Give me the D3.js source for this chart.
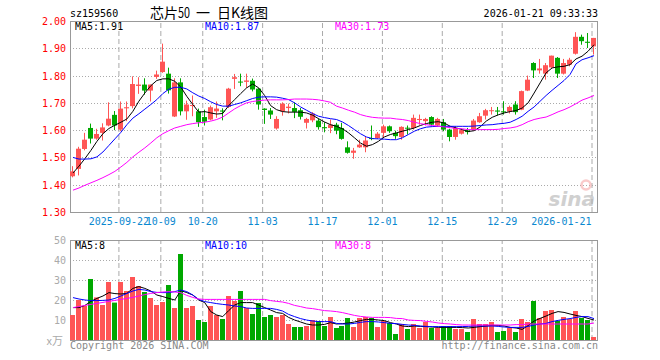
<!DOCTYPE html>
<html lang="zh-CN">
<head>
<meta charset="UTF-8">
<title>芯片50 日K线图</title>
<script src="https://cdn.jsdelivr.net/npm/d3@7"></script>
<style>
  body { margin: 0; background: #fff; }
  svg text { font-family: "DejaVu Sans Mono", monospace; font-size: 10px; }
</style>
</head>
<body>
<svg id="chart" width="660" height="360"></svg>
<script>
// trading days shown on the chart
const dates = [
  "2025-09-10","2025-09-11","2025-09-12","2025-09-15","2025-09-16","2025-09-17","2025-09-18","2025-09-19",
  "2025-09-22","2025-09-23","2025-09-24","2025-09-25","2025-09-26","2025-09-29","2025-09-30",
  "2025-10-09","2025-10-10","2025-10-13","2025-10-14","2025-10-15","2025-10-16","2025-10-17","2025-10-20",
  "2025-10-21","2025-10-22","2025-10-23","2025-10-24","2025-10-27","2025-10-28","2025-10-29","2025-10-30","2025-10-31",
  "2025-11-03","2025-11-04","2025-11-05","2025-11-06","2025-11-07","2025-11-10","2025-11-11","2025-11-12","2025-11-13","2025-11-14",
  "2025-11-17","2025-11-18","2025-11-19","2025-11-20","2025-11-21","2025-11-24","2025-11-25","2025-11-26","2025-11-27","2025-11-28",
  "2025-12-01","2025-12-02","2025-12-03","2025-12-04","2025-12-05","2025-12-08","2025-12-09","2025-12-10","2025-12-11","2025-12-12",
  "2025-12-15","2025-12-16","2025-12-17","2025-12-18","2025-12-19","2025-12-22","2025-12-23","2025-12-24","2025-12-25","2025-12-26",
  "2025-12-29","2025-12-30","2025-12-31",
  "2026-01-05","2026-01-06","2026-01-07","2026-01-08","2026-01-09","2026-01-12","2026-01-13","2026-01-14","2026-01-15","2026-01-16",
  "2026-01-19","2026-01-20","2026-01-21"
];
const open = [
  1.431,1.458,1.531,1.608,1.569,1.590,1.617,1.656,1.602,1.680,1.688,1.762,1.767,1.745,1.795,
  1.813,1.807,1.650,1.775,1.669,1.690,1.669,1.648,1.639,1.669,1.672,1.685,1.788,1.778,1.777,1.781,1.752,
  1.679,1.672,1.606,1.669,1.681,1.681,1.673,1.627,1.636,1.635,1.611,1.608,1.620,1.608,1.537,1.517,1.537,1.537,1.571,1.571,
  1.590,1.614,1.590,1.575,1.609,1.608,1.637,1.633,1.648,1.617,1.629,1.602,1.575,1.587,1.599,1.602,1.629,1.653,1.671,1.672,
  1.669,1.668,1.694,
  1.675,1.745,1.846,1.819,1.807,1.830,1.865,1.807,1.840,1.880,1.942,1.924,1.907
];
const high = [
  1.468,1.539,1.590,1.624,1.605,1.625,1.702,1.670,1.705,1.705,1.797,1.794,1.790,1.767,1.818,
  1.917,1.829,1.790,1.790,1.708,1.727,1.679,1.675,1.690,1.705,1.680,1.755,1.806,1.807,1.807,1.789,1.755,
  1.680,1.681,1.651,1.702,1.697,1.702,1.681,1.645,1.666,1.643,1.629,1.639,1.627,1.627,1.559,1.535,1.565,1.575,1.617,1.593,
  1.620,1.617,1.598,1.614,1.617,1.657,1.657,1.645,1.651,1.645,1.641,1.605,1.614,1.605,1.608,1.641,1.663,1.678,1.685,1.685,
  1.706,1.690,1.706,
  1.745,1.800,1.849,1.861,1.846,1.873,1.868,1.861,1.865,1.959,1.950,1.956,1.938
];
const low = [
  1.427,1.434,1.526,1.551,1.565,1.562,1.614,1.600,1.596,1.633,1.680,1.733,1.730,1.705,1.788,
  1.810,1.734,1.648,1.654,1.638,1.651,1.612,1.617,1.636,1.645,1.636,1.681,1.751,1.761,1.755,1.742,1.675,
  1.623,1.641,1.602,1.653,1.661,1.644,1.639,1.606,1.629,1.602,1.592,1.589,1.585,1.565,1.514,1.495,1.535,1.519,1.563,1.568,
  1.571,1.590,1.568,1.565,1.584,1.602,1.620,1.617,1.617,1.612,1.596,1.559,1.565,1.584,1.584,1.599,1.627,1.639,1.657,1.654,
  1.657,1.661,1.657,
  1.673,1.743,1.791,1.807,1.785,1.828,1.791,1.804,1.834,1.877,1.913,1.901,1.877
];
const close = [
  1.449,1.532,1.565,1.569,1.586,1.610,1.642,1.617,1.679,1.684,1.769,1.767,1.745,1.767,1.804,
  1.851,1.746,1.775,1.669,1.694,1.692,1.629,1.631,1.684,1.679,1.668,1.752,1.794,1.776,1.782,1.749,1.694,
  1.674,1.657,1.641,1.697,1.686,1.667,1.649,1.641,1.661,1.611,1.607,1.620,1.598,1.568,1.517,1.525,1.547,1.562,1.568,1.587,
  1.614,1.596,1.578,1.612,1.606,1.645,1.641,1.641,1.620,1.641,1.602,1.575,1.608,1.600,1.593,1.635,1.651,1.673,1.673,1.668,
  1.666,1.685,1.666,
  1.743,1.785,1.819,1.826,1.838,1.873,1.807,1.846,1.858,1.942,1.926,1.920,1.938
];
// price moving averages as drawn
const ma5 = [
  1.443,1.468,1.496,1.526,1.559,1.587,1.606,1.618,1.629,1.641,1.669,1.706,1.736,1.763,1.782,
  1.788,1.788,1.779,1.758,1.724,1.694,1.666,1.668,1.663,1.659,1.661,1.690,1.712,1.734,1.755,1.769,1.755,
  1.727,1.690,1.675,1.668,1.666,1.666,1.666,1.663,1.655,1.642,1.630,1.620,1.614,1.605,1.590,1.572,1.553,1.541,1.547,1.559,
  1.575,1.584,1.590,1.596,1.602,1.608,1.617,1.624,1.629,1.631,1.626,1.614,1.608,1.602,1.595,1.598,1.612,1.633,1.647,1.656,
  1.663,1.668,1.672,
  1.681,1.700,1.736,1.773,1.810,1.828,1.832,1.834,1.840,1.861,1.871,1.889,1.913
];
const ma10 = [
  1.500,1.494,1.494,1.495,1.502,1.520,1.544,1.568,1.592,1.620,1.644,1.660,1.677,1.694,1.712,
  1.734,1.750,1.757,1.757,1.751,1.737,1.725,1.716,1.704,1.694,1.688,1.688,1.694,1.700,1.708,1.716,1.721,
  1.722,1.722,1.721,1.717,1.712,1.700,1.685,1.673,1.661,1.651,1.646,1.642,1.639,1.630,1.617,1.602,1.587,1.575,1.569,1.568,
  1.567,1.565,1.565,1.572,1.584,1.596,1.605,1.611,1.613,1.614,1.614,1.614,1.614,1.614,1.614,1.615,1.617,1.619,1.620,1.623,
  1.625,1.629,1.639,
  1.651,1.669,1.685,1.706,1.727,1.746,1.764,1.782,1.804,1.843,1.858,1.865,1.873
];
const ma30 = [
  1.380,1.388,1.398,1.407,1.416,1.426,1.437,1.449,1.465,1.482,1.502,1.519,1.535,1.553,1.572,
  1.587,1.598,1.608,1.614,1.620,1.624,1.627,1.629,1.633,1.639,1.648,1.663,1.678,1.690,1.700,1.705,1.708,
  1.710,1.711,1.711,1.711,1.712,1.714,1.714,1.714,1.713,1.711,1.707,1.702,1.688,1.681,1.673,1.666,1.657,1.651,1.647,1.645,
  1.644,1.644,1.641,1.639,1.635,1.629,1.624,1.620,1.617,1.614,1.612,1.609,1.606,1.605,1.602,1.602,1.602,1.602,1.602,1.603,
  1.606,1.608,1.612,
  1.620,1.631,1.639,1.644,1.648,1.657,1.667,1.675,1.685,1.697,1.710,1.718,1.727
];
// volume, 万手
const volume = [
  12.5,20,17,30.5,21.3,17.5,29,18.7,29,24.5,31.5,27,24,21,17.5,
  19,27.5,16,43,16,17,10,9,17,12.5,10.5,22,19.5,24.5,16,13,18.5,
  11.5,12.5,11.5,12.5,8,6.5,6.5,7,10,9.5,7,11.5,6,7,11,6.5,11,11.5,11,6.5,
  9.5,8.5,3,8,5.5,8,6,9,6,6,7,7,5.5,5.5,4,10.5,8,8,9,4,
  4.5,6,4,
  10.5,9,19.5,11,14.5,15,9.5,11.5,10.5,14.5,11,10,1.5
];
const volMa5 = [
  16.2,16.2,17.3,19.3,20.8,22,23.7,23.2,23,23.3,25.8,26.7,25.8,24.5,22.5,
  21.7,20.8,20,24.7,23.7,22.5,20,18.7,14.2,12.5,11.7,14.7,17.5,18.7,18.7,18.7,17.5,
  16.2,15,13.7,13.3,11.3,10,9,8,7.5,7.5,7.8,8.7,8,8.2,8.5,9,9.7,10.3,10.3,10,
  9.7,8.7,8,7,6.7,7,6.8,6.7,6.5,6.3,6.3,6.3,6.3,6.2,6,6.3,6.7,7,7.3,7.3,
  7,6.3,6,
  5.3,7.2,9.5,10.8,12,13.3,14.2,13.8,13,12.3,11.7,10.8,10
];
const volMa10 = [
  21.2,20.5,20,19.7,19.7,19.8,20,20.8,22,23.3,24.5,25.3,25,24.2,23.8,
  23.7,23.7,24.2,25,24.2,22.5,20.3,19.2,18.7,18.2,17.8,17.5,17,16.7,16,15.8,15.8,
  15.8,15.8,15.3,14.5,12.8,11.7,10.7,10,9.5,9.2,9.2,9.2,8.3,8,8,8.3,8.8,9.2,9.2,9,
  8.7,8.3,8.2,7.8,7.5,7.3,7,6.8,6.7,6.7,6.7,6.7,6.7,6.7,6.8,7,7,7,7,6.8,
  6.5,6.3,6.3,
  6.3,6.8,7.5,8,8.3,9.2,9.8,10.3,10.7,11.3,11.7,11.7,10.7
];
const volMa30 = [
  16.2,16.7,17.3,17.8,18.3,18.8,19.3,19.8,20.3,20.8,21.3,22,22.7,23.3,23.7,
  24,24.2,24,23.7,22.3,21.3,20.5,20.3,20.3,20.3,20.3,20.3,20.3,20.3,20.3,20.3,20.3,
  20.3,19.7,19.3,19,18.3,17.3,16.7,16,15.7,15.2,14.7,14.5,14.2,13.7,13,12.3,11.8,11.5,11.3,11.3,
  11.3,11.2,10.8,10.7,10,9.8,9.7,9.3,9,8.5,8.2,8,7.7,7.5,7.5,7.5,7.5,7.5,7.5,7.5,
  7.5,7.5,7.7,
  7.7,8,8,8,8,8,8,8,8,8,8,8,8.5
];
const priceTicks = [1.30, 1.40, 1.50, 1.60, 1.70, 1.80, 1.90, 2.00];
const volTicks = [10, 20, 30, 40, 50];
const dateTicks = ["2025-09-22","2025-10-09","2025-10-20","2025-11-03","2025-11-17","2025-12-01","2025-12-15","2025-12-29","2026-01-21"];
const dateTickLabels = ["2025-09-22","10-09","10-20","11-03","11-17","12-01","12-15","12-29","2026-01-21"];

const RED = "#ff5555", GREEN = "#00a800", GRID = "#aaa", FRAME = "#999";
const plotL = 70, plotR = 597;
const main = { top: 21, bottom: 212 };
const vol = { top: 240, bottom: 340 };

const svg = d3.select("#chart");

//scales
const x = d3.scaleBand().domain(dates).range([plotL, plotR]);
const bw = x.bandwidth();
const xEdge = d3.scalePoint().domain(dates).range([plotL, plotR - bw]);
const y = d3.scaleLinear().domain([1.30, 2.00]).range([main.bottom, main.top]);
const yv = d3.scaleLinear().domain([0, 50]).range([vol.bottom, vol.top]);
const left = d => Math.round(x(d));
const cx = d => x(d) + bw / 2;

const rows = dates.map((d, i) => ({
  date: d, o: open[i], h: high[i], l: low[i], c: close[i], v: volume[i],
  up: close[i] >= open[i]
}));

//header
svg.append("text").attr("x", plotL).attr("y", 17).text("sz159560");
const title = svg.append("text").attr("y", 18)
  .style("font-family", "'Noto Sans CJK SC', sans-serif").style("font-size", "14px");
title.append("tspan").attr("x", 150).text("芯片");
title.append("tspan").attr("x", 178).attr("textLength", 12).attr("lengthAdjust", "spacingAndGlyphs").text("50");
title.append("tspan").attr("x", 196).text("一");
title.append("tspan").attr("x", 217).text("日K线图");
svg.append("text").attr("x", plotR + 1).attr("y", 17).attr("text-anchor", "end")
  .text("2026-01-21 09:33:33");

//vertical dashed grid + date labels
svg.append("g")
  .attr("class", "xgrid")
  .attr("transform", `translate(0.5,${main.bottom})`)
  .call(d3.axisBottom(xEdge).tickValues(dateTicks)
    .tickFormat((d, i) => dateTickLabels[i])
    .tickSize(-(main.bottom - main.top)).tickPadding(5.5))
  .call(g => g.select(".domain").remove());
svg.append("g")
  .attr("class", "xgrid")
  .attr("transform", `translate(0.5,${vol.bottom})`)
  .call(d3.axisBottom(xEdge).tickValues(dateTicks).tickFormat("")
    .tickSize(-(vol.bottom - vol.top)))
  .call(g => g.select(".domain").remove());
svg.selectAll(".xgrid line").attr("stroke", GRID).attr("stroke-dasharray", "5,3");
svg.selectAll(".xgrid text")
  .attr("fill", "#0a88d0")
  .style("font-family", "'DejaVu Sans Mono', monospace").style("font-size", "10px")
  .filter((d, i) => i === dateTicks.length - 1)
  .attr("text-anchor", "end").attr("x", -0.5);

//price axis and dotted grid
svg.append("g")
  .attr("class", "ygrid")
  .attr("transform", `translate(${plotL},0.5)`)
  .call(d3.axisLeft(y).tickValues(priceTicks).tickFormat(d3.format(".2f"))
    .tickSize(-(plotR - plotL)).tickPadding(4))
  .call(g => g.select(".domain").remove())
  .call(g => g.selectAll(".tick line")
    .attr("stroke", GRID).attr("stroke-dasharray", "1,2")
    .attr("opacity", d => (d === 1.30 || d === 2.00) ? 0 : 1))
  .call(g => g.selectAll(".tick text").attr("fill", "#f00")
    .style("font-family", "'DejaVu Sans Mono', monospace").style("font-size", "10px"));
//ticks sit on whole pixels
svg.selectAll(".ygrid .tick").attr("transform", d => `translate(0,${Math.round(y(d))})`);

//volume axis and grid
svg.append("g")
  .attr("class", "vgrid")
  .attr("transform", `translate(${plotL},0.5)`)
  .call(d3.axisLeft(yv).tickValues(volTicks)
    .tickSize(-(plotR - plotL)).tickPadding(4))
  .call(g => g.select(".domain").remove())
  .call(g => g.selectAll(".tick line")
    .attr("stroke", GRID).attr("stroke-dasharray", "1,2")
    .attr("opacity", d => d === 50 ? 0 : 1))
  .call(g => g.selectAll(".tick text").attr("fill", "#aaa")
    .style("font-family", "'DejaVu Sans Mono', monospace").style("font-size", "10px"));
svg.selectAll(".vgrid .tick").attr("transform", d => `translate(0,${Math.round(yv(d))})`);
svg.append("text").attr("x", 63).attr("y", 345).attr("text-anchor", "end")
  .attr("fill", "#aaa").style("font-size", "11px").style("font-family", "'Noto Sans CJK SC', sans-serif")
  .text("x万");

//frames
svg.append("rect").attr("x", plotL + 0.5).attr("y", main.top + 0.5)
  .attr("width", plotR - plotL).attr("height", main.bottom - main.top)
  .attr("fill", "none").attr("stroke", FRAME);
svg.append("rect").attr("x", plotL + 0.5).attr("y", vol.top + 0.5)
  .attr("width", plotR - plotL).attr("height", vol.bottom - vol.top)
  .attr("fill", "none").attr("stroke", FRAME);

//sina watermark
const wm = svg.append("g").attr("opacity", 0.55);
wm.append("circle").attr("cx", 586).attr("cy", 185).attr("r", 4.5)
  .attr("fill", "none").attr("stroke", "#f6a0a0").attr("stroke-width", 2.5);
wm.append("text").attr("x", 595).attr("y", 206).attr("text-anchor", "end")
  .attr("fill", "#aaa").style("font-family", "'DejaVu Sans', sans-serif")
  .style("font-size", "20px").style("font-style", "italic").style("font-weight", "bold")
  .text("sina");

//candles
const candles = svg.append("g").selectAll("g").data(rows).enter().append("g");
candles.append("line")
  .attr("x1", d => left(d.date) + 2.5).attr("x2", d => left(d.date) + 2.5)
  .attr("y1", d => y(d.h)).attr("y2", d => y(d.l))
  .attr("stroke", d => d.up ? RED : GREEN);
candles.append("rect")
  .attr("x", d => left(d.date)).attr("width", 5)
  .attr("y", d => y(Math.max(d.o, d.c)))
  .attr("height", d => Math.max(1, Math.abs(y(d.o) - y(d.c))))
  .attr("fill", d => d.up ? RED : GREEN);

//volume bars
svg.append("g").selectAll("rect").data(rows).enter().append("rect")
  .attr("x", d => left(d.date)).attr("width", 5)
  .attr("y", d => yv(d.v)).attr("height", d => yv(0) - yv(d.v))
  .attr("fill", d => d.up ? RED : GREEN);

//moving average lines
const maLine = (scale, values) => d3.line()
  .x((d, i) => cx(dates[i]))
  .y(d => scale(d))(values);
[[ma5, "#000"], [ma10, "#00f"], [ma30, "#f0f"]].forEach(([vals, col]) => {
  svg.append("path").attr("d", maLine(y, vals))
    .attr("fill", "none").attr("stroke", col).attr("stroke-width", 1);
});
[[volMa5, "#000"], [volMa10, "#00f"], [volMa30, "#f0f"]].forEach(([vals, col]) => {
  svg.append("path").attr("d", maLine(yv, vals))
    .attr("fill", "none").attr("stroke", col).attr("stroke-width", 1);
});

//MA legends
const legend = (yy, items) => items.forEach(([xx, txt, col]) =>
  svg.append("text").attr("x", xx).attr("y", yy).attr("fill", col).text(txt));
legend(30, [[75, "MA5:1.91", "#000"], [205, "MA10:1.87", "#00f"], [335, "MA30:1.73", "#f0f"]]);
legend(249, [[75, "MA5:8", "#000"], [205, "MA10:10", "#00f"], [335, "MA30:8", "#f0f"]]);

//footer
svg.append("text").attr("x", plotL).attr("y", 349).attr("fill", "#888").text("Copyright 2026 SINA.COM");
svg.append("text").attr("x", plotR + 1).attr("y", 349).attr("text-anchor", "end")
  .attr("fill", "#888").text("http://finance.sina.com.cn");
</script>
</body>
</html>
